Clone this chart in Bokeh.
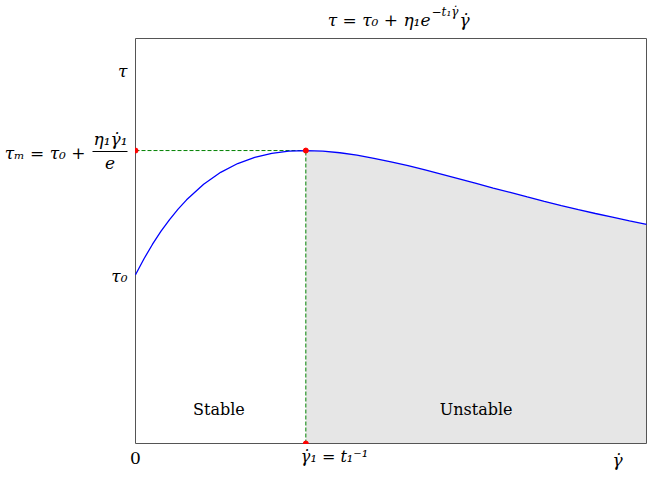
from bokeh.plotting import figure
from bokeh.models import Range1d, ColumnDataSource
from bokeh.core.properties import value
from bokeh.embed import file_html
from bokeh.resources import INLINE

# curve samples
gamma_dot = [0.0, 0.05, 0.1, 0.15, 0.2, 0.25, 0.3, 0.4, 0.5, 0.6, 0.7, 0.8, 0.9, 1.0,
             1.1, 1.2, 1.3, 1.4, 1.5, 1.6, 1.7, 1.8, 1.9, 2.0, 2.1, 2.2, 2.3, 2.4,
             2.5, 2.6, 2.7, 2.8, 2.9, 3.0]
tau = [1.000, 1.095, 1.181, 1.258, 1.327, 1.389, 1.444, 1.536, 1.607, 1.659, 1.695,
       1.719, 1.732, 1.736, 1.732, 1.723, 1.709, 1.690, 1.669, 1.646, 1.621, 1.595,
       1.568, 1.541, 1.514, 1.488, 1.461, 1.435, 1.410, 1.386, 1.363, 1.341, 1.319, 1.299]

tau_0 = 1.0
tau_m = 1.736
gamma_1 = 1.0
tau_top = 2.21
gamma_label = 2.83

x_min, x_max = 0.0, 3.0
y_min, y_max = 0.0, 2.4

region_names = ["Stable", "Unstable"]
region_x = [0.49, 2.0]
region_y = [0.2, 0.2]

FONT = "DejaVu Serif"

# ---- layout (pixels) ----
W, H = 648, 476
FL, FR, FT, FB = 135, 646, 38, 443           # plot box edges in pixels
SX = (FR - FL) / (x_max - x_min)
SY = (FB - FT) / (y_max - y_min)


def dx(px):
    return x_min + (px - FL) / SX


def dy(py):
    return y_min + (FB - py) / SY


p = figure(width=W, height=H, output_backend="svg", toolbar_location=None,
           x_range=Range1d(dx(0), dx(W)), y_range=Range1d(dy(H), dy(0)),
           x_axis_type=None, y_axis_type=None, min_border=0)
p.grid.visible = False
p.outline_line_color = None
p.background_fill_color = "white"
p.border_fill_color = "white"

# unstable region shading
xs = [g for g in gamma_dot if g >= gamma_1]
ys = [t for g, t in zip(gamma_dot, tau) if g >= gamma_1]
p.varea(x=xs, y1=[y_min] * len(xs), y2=ys, fill_color="#e6e6e6")

# plot box
p.quad(left=[x_min], right=[x_max], bottom=[y_min], top=[y_max],
       fill_color=None, line_color="#555555", line_width=1)

# dashed guides
p.line([x_min, gamma_1], [tau_m, tau_m], line_color="green", line_dash="4 2", line_width=1)
p.line([gamma_1, gamma_1], [y_min, tau_m], line_color="green", line_dash="4 2", line_width=1)

# curve
p.line(gamma_dot, tau, line_color="blue", line_width=1.3)

# points (the ones on the box edge are cut by the box)
p.scatter([gamma_1], [tau_m], size=5, color="red")
p.wedge(x=[x_min], y=[tau_m], radius=2.5, radius_units="screen",
        start_angle=-90, end_angle=90, start_angle_units="deg", end_angle_units="deg",
        color="red")
p.wedge(x=[gamma_1], y=[y_min], radius=2.5, radius_units="screen",
        start_angle=0, end_angle=180, start_angle_units="deg", end_angle_units="deg",
        color="red")


def txt(xv, yv, s, align, baseline, size="16px", style="normal"):
    src = ColumnDataSource(dict(x=[xv], y=[yv], t=[s]))
    p.text(x="x", y="y", text="t", source=src, text_align=align, text_baseline=baseline,
           text_font=value(FONT), text_font_size=value(size), text_font_style=style,
           text_color="black")


# region labels
for name, xv, yv in zip(region_names, region_x, region_y):
    txt(xv, yv, name, "center", "middle")

# x tick labels
txt(x_min, dy(451), "0", "center", "top", size="17px")
txt(dx(334), dy(446), "γ̇₁ = t₁⁻¹", "center", "top", style="italic")
txt(gamma_label, dy(449), "γ̇", "center", "top", size="17px", style="italic")

# y tick labels
txt(dx(127), tau_top, "τ", "right", "middle", size="17px", style="italic")
txt(dx(127), dy(275), "τ₀", "right", "middle", size="17px", style="italic")

# tau_m label with a fraction
txt(dx(85), dy(152), "τₘ = τ₀ +", "right", "middle", size="17px", style="italic")
txt(dx(110), dy(138), "η₁γ̇₁", "center", "middle", size="17px", style="italic")
p.segment(x0=[dx(92)], y0=[dy(151)], x1=[dx(127)], y1=[dy(151)], line_color="black", line_width=1)
txt(dx(109.5), dy(162), "e", "center", "middle", size="17px", style="italic")

# title
txt(dx(430), dy(19), "τ = τ₀ + η₁e", "right", "middle", size="17px", style="italic")
txt(dx(431), dy(11), "−t₁γ̇", "left", "middle", size="12px", style="italic")
txt(dx(459), dy(19), "γ̇", "left", "middle", size="17px", style="italic")

open("out.html", "w").write(file_html(p, INLINE))
